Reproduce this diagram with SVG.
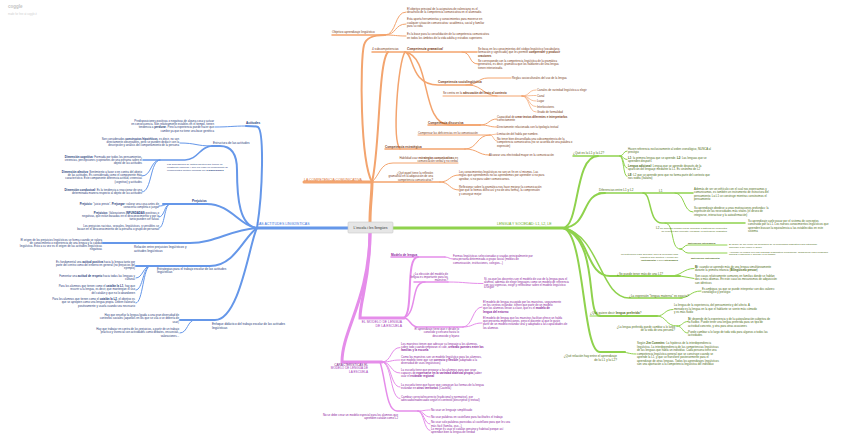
<svg xmlns="http://www.w3.org/2000/svg" width="848" height="445" viewBox="0 0 848 445">
<style>
text{font-family:"Liberation Sans",Arial,sans-serif;font-size:2.85px}
.n{font-size:3.1px}
.m{font-size:3.5px}
.s{font-size:2.5px}
.b{font-weight:bold}
.i{font-style:italic}
.e{text-anchor:end}
.co{fill:#7b3b16}.cb{fill:#1f3b7a}.cg{fill:#4d6c14}.cp{fill:#8c229c}
.mo{fill:#e27b3c}.mb{fill:#3b74db}.mg{fill:#6aae22}.mp{fill:#a53ab8}
path{fill:none;stroke-linecap:round}
.lo{stroke:#f3a46e}.lb{stroke:#6597e9}.lg{stroke:#8fd24d}.lp{stroke:#e58dea}
.w3{stroke-width:3}.w2{stroke-width:2}.w15{stroke-width:1.5}.w1{stroke-width:1}.w07{stroke-width:0.7}
</style>
<rect width="848" height="445" fill="#ffffff"/>
<g id="title">
<text x="8" y="7.5" style="font-size:4.5px;font-weight:bold;fill:#c4c4c4">coggle</text>
<text x="8" y="15" style="font-size:2.6px;fill:#cfcfcf">made for free at coggle.it</text>
</g>

<g id="connectors">
<!-- orange -->
<path class="lo w3" d="M370,222 C370,205 372,195 372,182"/>
<path class="lo w3" d="M304,182 L372,182"/>
<path class="lo w15" d="M372,182 L440,182"/>
<path class="lo w1" d="M440,182 C450,182 449,175 459,175"/>
<path class="lo w1" d="M440,182 C450,182 449,190 459,190"/>
<path class="lo w2" d="M372,182 C360,160 360,60 364,45 C366,38 372,35 385,35"/>
<path class="lo w15" d="M332,35 L385,35"/>
<path class="lo w1" d="M385,35 C397,35 394,12 406,12"/>
<path class="lo w1" d="M385,35 C397,35 394,24 406,24"/>
<path class="lo w1" d="M385,35 C395,35 396,36 406,36"/>
<path class="lo w2" d="M372,182 C380,150 378,62 388,52"/>
<path class="lo w15" d="M372,52 L477,52"/>
<path class="lo w1" d="M462,52 C472,52 468,64 478,64"/>
<path class="lo w15" d="M405,52 C414,54 410,85 438,85 L472,85"/>
<path class="lo w1" d="M466,85 C478,85 478,78 488,78 L511,78"/>
<path class="lo w1" d="M470,85 C482,86 485,96 497,96"/>
<path class="lo w1" d="M443,96 L522,96"/>
<path class="lo w07" d="M522,96 C530,96 528,90 536,90"/>
<path class="lo w07" d="M522,96 C530,96 528,95.5 536,95.5"/>
<path class="lo w07" d="M522,96 C530,96 528,101 536,101"/>
<path class="lo w07" d="M522,96 C530,96 528,106.5 536,106.5"/>
<path class="lo w07" d="M522,96 C530,96 528,112 536,112"/>
<path class="lo w15" d="M405,52 C432,56 420,125 450,125 L480,125"/>
<path class="lo w15" d="M428,125 L480,125"/>
<path class="lo w1" d="M480,125 C490,125 488,119 497,119"/>
<path class="lo w1" d="M480,125 C490,125 488,127 497,127"/>
<path class="lo w15" d="M405,52 C398,62 392,140 400,149"/>
<path class="lo w15" d="M385,149 L465,149"/>
<path class="lo w1" d="M465,149 C478,149 476,135 490,135"/>
<path class="lo w1" d="M418,135 L490,135"/>
<path class="lo w07" d="M490,135 L497,134"/>
<path class="lo w07" d="M490,135 C494,135 493,141 497,141"/>
<path class="lo w1" d="M465,149 C478,149 478,155 489,155"/>
<path class="lo w1" d="M372,182 C380,175 380,163 393,163 L458,163"/>
<!-- blue -->
<path class="lb w3" d="M257,228 L348,228"/>
<path class="lb w2" d="M257,228 C263,190 264,132 258,127 C255,126 250,126 246,126"/>
<path class="lb w1" d="M246,126 C232,126 230,127 215,127"/>
<path class="lb w2" d="M257,228 C240,226 237,200 237,170 C237,155 232,146 220,146 L212,146"/>
<path class="lb w1" d="M212,146 C196,146 196,143 180,143"/>
<path class="lb w15" d="M212,146 C200,146 198,160 185,160 L143,160"/>
<path class="lb w1" d="M160,160 C150,160 152,176 142,176"/>
<path class="lb w1" d="M160,160 C150,160 152,192 142,192"/>
<path class="lb w2" d="M257,228 C240,226 230,204 207,204 L163,204"/>
<path class="lb w1" d="M170,204 C164,204 165,206 159,206"/>
<path class="lb w1" d="M170,204 C164,204 165,217 159,217"/>
<path class="lb w1" d="M170,204 C164,204 165,228 159,228"/>
<path class="lb w2" d="M257,228 C230,230 215,243 190,243 L103,243"/>
<path class="lb w2" d="M257,228 C245,235 235,266 210,266 L136,266"/>
<path class="lb w1" d="M150,266 C143,266 143,278 136,278"/>
<path class="lb w1" d="M150,266 C143,266 143,290 136,290"/>
<path class="lb w1" d="M150,266 C143,266 143,303 136,303"/>
<path class="lb w2" d="M257,228 C250,240 240,320 215,320 L180,320"/>
<path class="lb w1" d="M195,320 C187,320 188,333 180,333"/>
<!-- green -->
<path class="lg w3" d="M392,228 L563,228"/>
<path class="lg w2" d="M563,228 C580,226 574,156 598,156"/>
<path class="lg w15" d="M573,156 L620,156"/>
<path class="lg w1" d="M620,156 C624,156 623,151 627,151"/>
<path class="lg w1" d="M620,156 C624,156 623,159.5 627,159.5"/>
<path class="lg w1" d="M620,156 C624,156 623,168 627,168"/>
<path class="lg w1" d="M620,156 C624,156 623,176.5 627,176.5"/>
<path class="lg w2" d="M563,228 C590,226 580,193 605,193"/>
<path class="lg w15" d="M599,193 L693,193"/>
<path class="lg w1" d="M675,193 C685,193 683,212 693,212"/>
<path class="lg w15" d="M643,193 C652,193 648,223 662,223 L745,223"/>
<path class="lg w1" d="M665,223 C675,223 670,249 680,249"/>
<path class="lg w1" d="M680,249 C684,249 684,245 688,245 L727,245"/>
<path class="lg w1" d="M680,249 C684,249 684,253 688,253 L727,253"/>
<path class="lg w2" d="M563,228 C590,232 585,276 610,276 L680,276"/>
<path class="lg w1" d="M670,276 C682,276 683,268.5 694,268.5"/>
<path class="lg w1" d="M680,276 L694,278.5"/>
<path class="lg w15" d="M563,228 C600,235 600,298 629,298 L682,298"/>
<path class="lg w1" d="M680,298 C690,298 690,291 701,291"/>
<path class="lg w2" d="M563,228 C600,240 585,316 600,316 L657,316"/>
<path class="lg w1" d="M590,316 L600,316"/>
<path class="lg w1" d="M657,316 C665,316 664,309.5 673,309.5"/>
<path class="lg w1" d="M657,316 C667,316 665,326 677,326"/>
<path class="lg w1" d="M677,326 C683,326 682,321.5 688,321.5"/>
<path class="lg w1" d="M677,326 C683,326 682,333 688,333"/>
<path class="lg w2" d="M563,228 C585,232 582,352 600,352 L625,352"/>
<path class="lg w1" d="M620,352 C628,352 628,354 636,354"/>
<!-- pink -->
<path class="lp w3" d="M370,233 C370,280 360,300 360,318 L404,318"/>
<path class="lp w3" d="M370,233 C369,300 342,330 342,362 L382,362"/>
<path class="lp w2" d="M404,318 C414,312 405,257 418,257"/>
<path class="lp w15" d="M391,257 L445,257"/>
<path class="lp w1" d="M445,257 C449,257 449,259 453,259"/>
<path class="lp w15" d="M404,318 C418,312 410,282 425,282"/>
<path class="lp w15" d="M414,282 L448,282"/>
<path class="lp w1" d="M448,282 C466,282 466,283.5 483,283.5"/>
<path class="lp w15" d="M404,318 C410,318 410,327 418,327 L463,327"/>
<path class="lp w1" d="M463,327 C473,327 472,307 482,307"/>
<path class="lp w1" d="M463,327 C473,327 472,323 482,323"/>
<path class="lp w1" d="M382,362 C392,362 390,347.5 400,347.5"/>
<path class="lp w1" d="M382,362 C392,362 390,360 400,360"/>
<path class="lp w1" d="M382,362 C392,362 390,373 400,373"/>
<path class="lp w1" d="M382,362 C392,362 390,387 400,387"/>
<path class="lp w1" d="M382,362 C392,362 390,398.5 400,398.5"/>
<path class="lp w15" d="M380,362 C386,380 386,411 397,411 L418,411"/>
<path class="lp w1" d="M418,411 C424,411 424,410 430,410"/>
<path class="lp w1" d="M418,411 C424,411 424,417 430,417"/>
<path class="lp w1" d="M418,411 C424,411 424,424 430,424"/>
<path class="lp w1" d="M418,411 C424,411 424,430.5 430,430.5"/>
</g>

<g id="root">
<rect x="348" y="222" width="45" height="11" rx="1" fill="#e6e6e6" stroke="#c9c9c9" stroke-width="0.6"/>
<text x="370.5" y="228.8" style="font-size:3.5px;fill:#333;text-anchor:middle">L'escola i les llengües</text>
</g>

<!-- ORANGE -->
<g id="o-main"><text x="304" y="180.5" class="m mo">LA COMPETENCIA COMUNICATIVA</text></g>
<g id="o-obj"><text x="332" y="33" class="n co">Objetivo aprendizaje lingüístico</text></g>
<g id="o-obj1"><text x="407" y="10" class="co"><tspan x="407">El objetivo principal de la asignatura de valenciano es el</tspan><tspan x="407" dy="3.3">desarrollo de la competencia comunicativa en el alumnado.</tspan></text></g>
<g id="o-obj2"><text x="407" y="20.3" class="co"><tspan x="407">Esta aporta herramientas y conocimientos para moverse en</tspan><tspan x="407" dy="3.3">cualquier situación comunicativa: académica, social y familiar</tspan><tspan x="407" dy="3.3">para su vida</tspan></text></g>
<g id="o-obj3"><text x="407" y="35.3" class="co"><tspan x="407">Es la base para la consolidación de la competencia comunicativa</tspan><tspan x="407" dy="3.3">en todos los ámbitos de la vida adulta y estudios superiores</tspan></text></g>
<g id="o-sub"><text x="372" y="49.5" class="n co">4 subcompetencias</text></g>
<g id="o-gram"><text x="407" y="49.5" class="n co b i">Competencia gramatical</text></g>
<g id="o-gram1"><text x="478" y="50" class="co"><tspan x="478">Se basa en los conocimientos del código lingüístico (vocabulario,</tspan><tspan x="478" dy="3.3">formación y significado) que les permite <tspan class="b">comprender y producir</tspan></tspan><tspan x="478" dy="3.3" class="b">oraciones</tspan></text></g>
<g id="o-gram2"><text x="478" y="62" class="co"><tspan x="478">Se corresponde con la competencia lingüística de la gramática</tspan><tspan x="478" dy="3.3">generativa, es decir, gramática que los hablantes de una lengua</tspan><tspan x="478" dy="3.3">tienen interiorizada.</tspan></text></g>
<g id="o-socio-r"><text x="512" y="78.8" class="co">Reglas socioculturales del uso de la lengua</text></g>
<g id="o-socio"><text x="438" y="83" class="n co b">Competencia sociolingüística</text></g>
<g id="o-centra"><text x="443" y="94" class="co">Se centra en la <tspan class="b">adecuación del texto al contexto</tspan></text></g>
<g id="o-c1"><text x="537" y="91" class="co">Canales de variedad lingüística a elegir</text></g>
<g id="o-c2"><text x="537" y="96.5" class="co">Canal</text></g>
<g id="o-c3"><text x="537" y="102" class="co">Lugar</text></g>
<g id="o-c4"><text x="537" y="107.5" class="co">Interlocutores</text></g>
<g id="o-c5"><text x="537" y="113" class="co">Grado de formalidad</text></g>
<g id="o-disc"><text x="428" y="124" class="n co b">Competencia discursiva</text></g>
<g id="o-disc1"><text x="497" y="118" class="co"><tspan x="497">Capacidad de <tspan class="b">crear textos diferentes e interpretarlos</tspan></tspan><tspan x="497" dy="3.3">correctamente</tspan></text></g>
<g id="o-disc2"><text x="497" y="128" class="co">Directamente relacionada con la tipología textual</text></g>
<g id="o-comp"><text x="418" y="134" class="co">Compensar las deficiencias en la comunicación</text></g>
<g id="o-comp1"><text x="497" y="134.5" class="co">Limitación del habla por nombre.</text></g>
<g id="o-comp2"><text x="497" y="140" class="co"><tspan x="497">No tener bien desarrollada una subcompetencia de la</tspan><tspan x="497" dy="3.3">competencia comunicativa (no se acuerda de una palabra o</tspan><tspan x="497" dy="3.3">expresión)</tspan></text></g>
<g id="o-estr"><text x="385" y="147.5" class="n co b">Competencia estratégica</text></g>
<g id="o-estr1"><text x="489" y="155.5" class="co">Alcanzar una efectividad mayor en la comunicación</text></g>
<g id="o-hab"><text x="458" y="159" class="co e"><tspan x="458">Habilidad usar <tspan class="b">estrategias comunicativas</tspan> en</tspan><tspan x="458" dy="3.3">comunicación verbal y no verbal</tspan></text></g>
<g id="o-papel"><text x="433" y="174" class="co e"><tspan x="433">¿Qué papel tiene la reflexión</tspan><tspan x="433" dy="3.3">gramatical en la adquisición de una</tspan><tspan x="433" dy="3.3">competencia comunicativa?</tspan></text></g>
<g id="o-papel1"><text x="459" y="173" class="co"><tspan x="459">Los conocimientos lingüísticos no son un fin en sí mismos. Las</tspan><tspan x="459" dy="3.3">reglas que aprendemos no las aprendemos por aprender si no para</tspan><tspan x="459" dy="3.3">aprobar, si no para saber comunicarnos.</tspan></text></g>
<g id="o-papel2"><text x="459" y="188" class="co"><tspan x="459">Reflexionar sobre la gramática nos hace mejorar la comunicación</tspan><tspan x="459" dy="3.3">(por qué lo hemos dicho así y no de otra forma), la comprensión</tspan><tspan x="459" dy="3.3">y conseguir mejor</tspan></text></g>

<!-- BLUE -->
<g id="b-main"><text x="257" y="224.5" class="m mb">LAS ACTITUDES LINGÜÍSTICAS</text></g>
<g id="b-act"><text x="246" y="124.3" class="n cb b">Actitudes</text></g>
<g id="b-act1"><text x="214" y="122" class="cb e"><tspan x="214">Predisposiciones positivas o negativas de alguna cosa y actuar</tspan><tspan x="214" dy="3.2">en consecuencia. Son relativamente estables en el tiempo, tienen</tspan><tspan x="214" dy="3.2">tendencia a <tspan class="b">perdurar</tspan>. Pero la experiencia puede hacer que</tspan><tspan x="214" dy="3.2">cambie ya que no tiene una base genética</tspan></text></g>
<g id="b-est"><text x="213" y="144.3" class="n cb">Estructura de las actitudes</text></g>
<g id="b-est1"><text x="179" y="140" class="cb e"><tspan x="179">Son considerados <tspan class="b">constructos hipotéticos</tspan>, es decir, no son</tspan><tspan x="179" dy="3.2">directamente observables, pero se pueden deducir con la</tspan><tspan x="179" dy="3.2">descripción y análisis del comportamiento de la persona</tspan></text></g>
<g id="b-dim"><text x="167" y="165" class="s cb"><tspan x="167">Las dimensiones de actitud afectiva que tienen un</tspan><tspan x="167" dy="2.9">constructo complejo y que por ende un componente de</tspan><tspan x="167" dy="2.9">componentes múltiple formada por <tspan class="b">3 dimensiones</tspan></tspan></text></g>
<g id="b-dim1"><text x="142" y="158" class="cb e"><tspan x="142"><tspan class="b">Dimensión cognitiva</tspan>: Formada por todos los pensamientos,</tspan><tspan x="142" dy="3.2">creencias, percepciones y opiniones de una persona sobre el</tspan><tspan x="142" dy="3.2">objeto de las actitudes</tspan></text></g>
<g id="b-dim2"><text x="142" y="173" class="cb e"><tspan x="142"><tspan class="b">Dimensión afectiva</tspan>: Sentimiento a favor o en contra del objeto</tspan><tspan x="142" dy="3.2">de las actitudes. Es considerada como el componente más</tspan><tspan x="142" dy="3.2">característico. Este componente diferencia actitud, creencias</tspan><tspan x="142" dy="3.2">(cognitivo) y actitudes</tspan></text></g>
<g id="b-dim3"><text x="142" y="191" class="cb e"><tspan x="142"><tspan class="b">Dimensión conductual</tspan>: Es la tendencia a reaccionar de una</tspan><tspan x="142" dy="3.2">determinada manera respecto al objeto de las actitudes</tspan></text></g>
<g id="b-pre"><text x="192" y="202.3" class="n cb b">Prejuicios</text></g>
<g id="b-pre1"><text x="159" y="205" class="cb e"><tspan x="159"><tspan class="b">Prejuicio</tspan>: “juicio previo”. <tspan class="b">Prejuzgar</tspan>: valorar una cosa antes de</tspan><tspan x="159" dy="3.2">conocerla completa o juzgar</tspan></text></g>
<g id="b-pre2"><text x="159" y="214" class="cb e"><tspan x="159"><tspan class="b">Prejuicios</tspan>: Valoraciones <tspan class="b">INFUNDADAS</tspan> positivas o</tspan><tspan x="159" dy="3.2">negativas, que están basadas en el desconocimiento y por lo</tspan><tspan x="159" dy="3.2">tanto pueden ser falsas</tspan></text></g>
<g id="b-pre3"><text x="159" y="227" class="cb e"><tspan x="159">Los prejuicios racistas, sexuales, lingüísticos, y sensibles se</tspan><tspan x="159" dy="3.2">basan en el desconocimiento de la persona o grupo de personas</tspan></text></g>
<g id="b-rel"><text x="134" y="248" class="n cb"><tspan x="134">Relación entre prejuicios lingüísticos y</tspan><tspan x="134" dy="3.5">actitudes lingüísticas</tspan></text></g>
<g id="b-rel1"><text x="102" y="240.5" class="cb e"><tspan x="102">El origen de los prejuicios lingüísticos se forma cuando se valora</tspan><tspan x="102" dy="3">de conocimiento o experiencia de una lengua y la calidad</tspan><tspan x="102" dy="3">lingüística. Esto a su vez es el origen de las actitudes lingüísticas</tspan><tspan x="102" dy="3">negativas</tspan></text></g>
<g id="b-estr"><text x="157" y="269.5" class="n cb"><tspan x="157">Estrategias para el trabajo escolar de las actitudes</tspan><tspan x="157" dy="3.5">lingüísticas</tspan></text></g>
<g id="b-estr1"><text x="135" y="262.5" class="cb e"><tspan x="135">Es fundamental una <tspan class="b">actitud positiva</tspan> hacia la lengua tanto por</tspan><tspan x="135" dy="3.3">parte del centro como del entorno en general (no prejuicios del</tspan><tspan x="135" dy="3.3">ejemplo)</tspan></text></g>
<g id="b-estr2"><text x="135" y="276.5" class="cb e"><tspan x="135">Fomentar una <tspan class="b">actitud de respeto</tspan> hacia todas las lenguas y</tspan><tspan x="135" dy="3.3">culturas</tspan></text></g>
<g id="b-estr3"><text x="135" y="287" class="cb e"><tspan x="135">Para los alumnos que tienen como el <tspan class="b">catalán la L1</tspan>, hay que</tspan><tspan x="135" dy="3.3">recurrir a la lengua, es decir, que mantengan el uso</tspan><tspan x="135" dy="3.3">del catalán y que no lo abandonen</tspan></text></g>
<g id="b-estr4"><text x="135" y="300" class="cb e"><tspan x="135">Para los alumnos que tienen como el <tspan class="b">catalán la L2</tspan>, el objetivo es</tspan><tspan x="135" dy="3.3">que se apropien como una lengua propia. Deben valorarla</tspan><tspan x="135" dy="3.3">positivamente y usarla cuando sea necesario</tspan></text></g>
<g id="b-enf"><text x="212" y="325" class="n cb"><tspan x="212">Enfoque didáctico del trabajo escolar de las actitudes</tspan><tspan x="212" dy="3.5">lingüísticas</tspan></text></g>
<g id="b-enf1"><text x="179" y="316" class="cb e"><tspan x="179">Hay que enseñar la lengua ligada a una gran diversidad de</tspan><tspan x="179" dy="3.3">contextos sociales (aquellos en los que se usa o se debería de</tspan><tspan x="179" dy="3.3">usar)</tspan></text></g>
<g id="b-enf2"><text x="179" y="330" class="cb e"><tspan x="179">Hay que trabajar en contra de los prejuicios, a partir de un trabajo</tspan><tspan x="179" dy="3.3">práctico y vivencial con actividades como debates, encuestas,</tspan><tspan x="179" dy="3.3">valoraciones...</tspan></text></g>

<!-- GREEN -->
<g id="g-main"><text x="497" y="224.5" class="m mg">LENGUA Y SOCIEDAD: L1, L2, LE</text></g>
<g id="g-que"><text x="573" y="154.3" class="n cg">¿Qué es la L1 y la L2?</text></g>
<g id="g-que1"><text x="628" y="150" class="cg"><tspan x="628">Hacen referencia exclusivamente al orden cronológico, NUNCA al</tspan><tspan x="628" dy="3.3">prestigio</tspan></text></g>
<g id="g-que2"><text x="628" y="158.5" class="cg"><tspan x="628"><tspan class="b">L1</tspan>: la primera lengua que se aprende. <tspan class="b">L2</tspan>: Las lenguas que se</tspan><tspan x="628" dy="3.3">aprenden después</tspan></text></g>
<g id="g-que3"><text x="628" y="167" class="cg"><tspan x="628"><tspan class="b">Lengua adicional</tspan>: Lengua que se aprende después de la</tspan><tspan x="628" dy="3.3">aparición del lenguaje mediante la L1. Es sinónimo de L2</tspan></text></g>
<g id="g-que4"><text x="628" y="175.5" class="cg"><tspan x="628"><tspan class="b">LE</tspan>: L2 que se aprende pero que no forma parte del contexto que</tspan><tspan x="628" dy="3.3">nos rodea (Italiano)</tspan></text></g>
<g id="g-dif"><text x="599" y="191.3" class="n cg">Diferencias entre L1 y L2</text></g>
<g id="g-l1"><text x="659" y="191.5" class="n cg">L1</text></g>
<g id="g-l1a"><text x="694" y="190" class="cg"><tspan x="694">Además de ser un vehículo con el cual nos expresamos y</tspan><tspan x="694" dy="3.3">comunicamos, es también un instrumento de estructura del</tspan><tspan x="694" dy="3.3">pensamiento. La L1 se construye mientras construimos el</tspan><tspan x="694" dy="3.3">pensamiento</tspan></text></g>
<g id="g-l1b"><text x="694" y="209" class="cg"><tspan x="694">Su aprendizaje obedece a unas motivaciones profundas: la</tspan><tspan x="694" dy="3.3">expresión de las necesidades más vitales (el deseo de</tspan><tspan x="694" dy="3.3">integrarse, interactuar y la autoafirmación)</tspan></text></g>
<g id="g-l2"><text x="656" y="228.5" class="n cg">L2</text></g>
<g id="g-l2a"><text x="748" y="222" class="cg"><tspan x="748">Su aprendizaje suele pasar por el sistema de conceptos</tspan><tspan x="748" dy="3.3">construido por la L1. Los nuevos conocimientos lingüísticos que</tspan><tspan x="748" dy="3.3">aprenden buscan la equivalencia a las establecidas en este</tspan><tspan x="748" dy="3.3">sistema</tspan></text></g>
<g id="g-l2b"><text x="727" y="229" class="s cg e"><tspan x="727">Se aprende cuando puede formarse a sistema de conceptos</tspan><tspan x="727" dy="2.9">de relación que necesite (creados) la motivación lingüística</tspan></text></g>
<g id="g-mot"><text x="678" y="255" class="s cg e"><tspan x="678">La motivación para aprender una L2 es mucho más</tspan><tspan x="678" dy="2.8">cognitiva que afectiva y puede ser</tspan><tspan x="678" dy="2.8"><tspan class="b">instrumental</tspan> o bien <tspan class="b">integradora</tspan></tspan></text></g>
<g id="g-int"><text x="688" y="243.5" class="s cg b">Motivación integradora</text></g>
<g id="g-int1"><text x="729" y="245" class="s cg"><tspan x="729">El deseo de ser como los miembros de la comunidad lingüística para integrarse</tspan><tspan x="729" dy="2.6">aprender a ser como el grupo</tspan></text></g>
<g id="g-ins"><text x="691" y="259" class="s cg b">Motivación instrumental</text></g>
<g id="g-ins1"><text x="729" y="252.5" class="s cg"><tspan x="729">Aprender la lengua con una finalidad pragmática (profesional, académica) para conseguir</tspan><tspan x="729" dy="2.6">aprobar exámenes o acceder a un trabajo</tspan></text></g>
<g id="g-mas"><text x="617" y="275.3" class="n cg">¿Se puede tener más de una L1?</text></g>
<g id="g-mas1"><text x="695" y="267.5" class="cg"><tspan x="695"><tspan class="b">Bi</tspan>: cuando se aprende más de una lengua simultáneamente</tspan><tspan x="695" dy="3.3">durante la primera infancia (<tspan class="b">Bilingüismo precoz</tspan>)</tspan></text></g>
<g id="g-mas2"><text x="695" y="277" class="cg"><tspan x="695">Son casos relativamente comunes en familias donde se hablan</tspan><tspan x="695" dy="3.3">dos o más idiomas. En este caso los mecanismos de adquisición</tspan><tspan x="695" dy="3.3">son idénticos</tspan></text></g>
<g id="g-mat"><text x="629" y="297.3" class="n cg">¿La expresión “lengua materna” es exacta?</text></g>
<g id="g-mat1"><text x="702" y="290" class="cg"><tspan x="702">Es ambiguo, ya que se puede interpretar con dos valores:</tspan><tspan x="702" dy="3.3">cronológico y prestigio</tspan></text></g>
<g id="g-pref"><text x="590" y="314.3" class="n cg">¿Qué quiere decir <tspan class="b">lengua preferida</tspan>?</text></g>
<g id="g-pref1"><text x="674" y="306" class="cg"><tspan x="674">La lengua de la experiencia, del pensamiento y del afecto. A</tspan><tspan x="674" dy="3.5">menudo es la lengua en la que el hablante se siente más cómodo</tspan><tspan x="674" dy="3.5">y es más fluido</tspan></text></g>
<g id="g-camb"><text x="675" y="328" class="cg e"><tspan x="675">¿La lengua preferida puede cambiar a lo largo</tspan><tspan x="675" dy="3.3">de la vida de una persona?</tspan></text></g>
<g id="g-camb1"><text x="688" y="320" class="cg"><tspan x="688"><tspan class="b">Sí</tspan>: depende de la experiencia y de la autovaloración subjetiva de</tspan><tspan x="688" dy="3.3">la fluidez. Puede tener una lengua preferida para un tipo de</tspan><tspan x="688" dy="3.3">actividad concreto, y otra para otras ocasiones</tspan></text></g>
<g id="g-camb2"><text x="688" y="333" class="cg"><tspan x="688">Puede cambiar a lo largo de toda vida para algunos o todos las</tspan><tspan x="688" dy="3.3">actividades</tspan></text></g>
<g id="g-rel"><text x="617" y="357" class="n cg e"><tspan x="617">¿Qué relación hay entre el aprendizaje</tspan><tspan x="617" dy="3.5">de la L1 y la L2?</tspan></text></g>
<g id="g-rel1"><text x="637" y="344" class="cg"><tspan x="637">Según <tspan class="b">Jim Cummins</tspan>: La hipótesis de la interdependencia</tspan><tspan x="637" dy="3.5">lingüística. La interdependencia de las competencias lingüísticas</tspan><tspan x="637" dy="3.5">de las lenguas que habla un individuo. Cada persona tiene una</tspan><tspan x="637" dy="3.5">competencia lingüística general que se construye cuando se</tspan><tspan x="637" dy="3.5">aprende la L1, y que se transfiere posteriormente para el</tspan><tspan x="637" dy="3.5">aprendizaje de otras lenguas. Todos los aprendizajes lingüísticos</tspan><tspan x="637" dy="3.5">son una aportación a la competencia lingüística del individuo</tspan></text></g>

<!-- PINK -->
<g id="p-main"><text x="402" y="323" class="mp e" style="font-size:3.4px"><tspan x="402">EL MODELO DE LENGUA</tspan><tspan x="402" dy="3.7">DE LA ESCUELA</tspan></text></g>
<g id="p-mod"><text x="391" y="255.8" class="n cp b">Modelo de lengua</text></g>
<g id="p-mod1"><text x="453" y="257" class="cp"><tspan x="453">Formas lingüísticas seleccionadas y usadas principalmente por</tspan><tspan x="453" dy="3.3">una persona determinada o grupo social (medios de</tspan><tspan x="453" dy="3.3">comunicación, instituciones, colegios...)</tspan></text></g>
<g id="p-ele"><text x="448" y="275" class="cp e"><tspan x="448">¿La elección del modelo de</tspan><tspan x="448" dy="3.2">lengua es importante para los</tspan><tspan x="448" dy="3.2">maestros?</tspan></text></g>
<g id="p-ele1"><text x="484" y="280" class="cp"><tspan x="484">Sí, ya que los docentes son el modelo de uso de la lengua para el</tspan><tspan x="484" dy="2.8">alumno, además de elegir lenguajes como un modelo de referencia</tspan><tspan x="484" dy="2.8">con sus vigencias, exigir y reflexionar sobre el modelo lingüístico</tspan><tspan x="484" dy="2.8">a seguir</tspan></text></g>
<g id="p-apr"><text x="459" y="330" class="cp e"><tspan x="459">El aprendizaje tiene que ir desde lo</tspan><tspan x="459" dy="3.4">conocido y cercano hasta lo</tspan><tspan x="459" dy="3.4">desconocido y lejano</tspan></text></g>
<g id="p-apr1"><text x="483" y="303" class="cp"><tspan x="483">El modelo de lengua escogido por los maestros, seguramente</tspan><tspan x="483" dy="3.2">en los centros estándar, tienen que partir de un modelo</tspan><tspan x="483" dy="3.2">que los alumnos llevan a clase, que es el <tspan class="b">modelo de</tspan></tspan><tspan x="483" dy="3.2" class="b">lengua del entorno</tspan></text></g>
<g id="p-apr2"><text x="483" y="319" class="cp"><tspan x="483">El modelo de lengua que los maestros facilitan ofrece un habla</tspan><tspan x="483" dy="3.2">que presenta imperfecciones, pero el docente al que le guste</tspan><tspan x="483" dy="3.2">partir de un modelo estándar oral y adaptado a las capacidades de</tspan><tspan x="483" dy="3.2">los alumnos</tspan></text></g>
<g id="p-car"><text x="368" y="366" class="n mp e"><tspan x="368" style="fill:#7a1a8a">CARACTERÍSTICAS EL</tspan><tspan x="368" dy="3.4">MODELO DE LENGUA DE</tspan><tspan x="368" dy="3.4">LA ESCUELA</tspan></text></g>
<g id="p-car1"><text x="401" y="345" class="cp"><tspan x="401">Los maestros tienen que adecuar su lenguaje a los alumnos,</tspan><tspan x="401" dy="3.2">sobre todo cuando empiezan el cole, <tspan class="b">creando puentes entre las</tspan></tspan><tspan x="401" dy="3.2" class="b">familias y la escuela</tspan></text></g>
<g id="p-car2"><text x="401" y="357.5" class="cp"><tspan x="401">Como los maestros son un modelo lingüístico para los alumnos,</tspan><tspan x="401" dy="3.2">ese modelo tiene que ser <tspan class="b">correcto y flexible</tspan> (adaptado a la</tspan><tspan x="401" dy="3.2">diversidad de usos lingüísticos)</tspan></text></g>
<g id="p-car3"><text x="401" y="370.5" class="cp"><tspan x="401">La escuela tiene que preparar a los alumnos para que sean</tspan><tspan x="401" dy="3.2">capaces de <tspan class="b">expresarse en la variedad dialectal propia</tspan> (saber</tspan><tspan x="401" dy="3.2">usar el <tspan class="b">estándar regional</tspan></tspan></text></g>
<g id="p-car4"><text x="401" y="385.5" class="cp"><tspan x="401">La escuela tiene que hacer que conozcan las formas de la lengua</tspan><tspan x="401" dy="3.3">estándar en <tspan class="b">otros territorios</tspan> (Castellà)</tspan></text></g>
<g id="p-car5"><text x="401" y="397.5" class="cp"><tspan x="401">Cambiar correcto/incorrecto (tradicional y normativo), por</tspan><tspan x="401" dy="3.3">adecuado/inadecuado según el contexto (descriptivo y textual)</tspan></text></g>
<g id="p-nod"><text x="398" y="416" class="cp e"><tspan x="398">No se debe crear un modelo especial para los alumnos que</tspan><tspan x="398" dy="3.2">aprenden catalán como L2</tspan></text></g>
<g id="p-nod1"><text x="431" y="411" class="cp">No usar un lenguaje simplificado</text></g>
<g id="p-nod2"><text x="431" y="418" class="cp">No usar palabras en castellano para facilitarles el trabajo</text></g>
<g id="p-nod3"><text x="431" y="423.3" class="cp"><tspan x="431">No usar solo palabras parecidas al castellano para que les sea</tspan><tspan x="431" dy="3.2">más fácil (familia, oso...)</tspan></text></g>
<g id="p-nod4"><text x="431" y="429.8" class="cp"><tspan x="431">Lo mejor es usar el catalán genuino y habitual porque así</tspan><tspan x="431" dy="3.2">aprendan bien la lengua de verdad</tspan></text></g>
</svg>
